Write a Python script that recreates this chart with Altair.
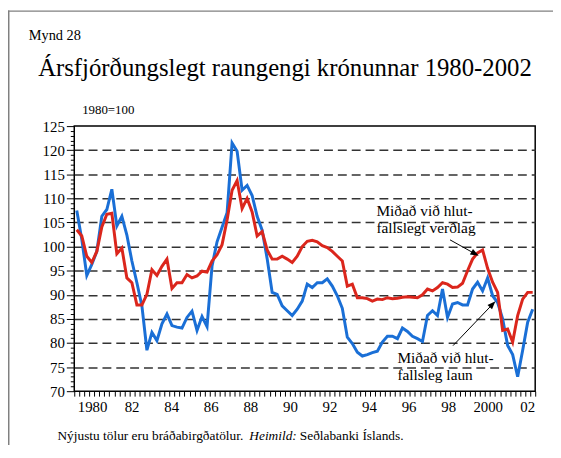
import math
import altair as alt
import pandas as pd

# ---------------- data ----------------
N_Q = 92  # quarters 1980Q1 .. 2002Q4
laun = [107.5, 101.5, 94.0, 96.3, 99.0, 106.3, 107.7, 111.9, 104.3, 106.3,
        102.4, 97.0, 92.5, 87.7, 78.5, 82.2, 80.5, 84.0, 86.0, 83.6,
        83.3, 83.1, 85.3, 86.6, 82.6, 85.5, 83.4, 96.0, 101.0, 104.0,
        107.0, 121.5, 119.8, 111.7, 112.7, 110.6, 106.3, 103.4, 97.5, 90.5,
        90.1, 87.7, 86.7, 85.7, 87.0, 88.7, 92.2, 91.5, 92.5, 92.5,
        93.3, 91.8, 89.8, 87.2, 81.2, 79.9, 78.1, 77.3, 77.6, 78.0,
        78.3, 80.2, 81.4, 81.4, 80.9, 83.1, 82.4, 81.4, 80.9, 80.3,
        85.7, 86.7, 85.7, 91.2, 85.3, 88.1, 88.4, 87.9, 87.9, 91.2,
        92.6, 90.8, 93.5, 89.8, 88.4, 85.0, 79.5, 77.6, 73.0, 78.5,
        84.3, 87.0]
verdlag = [103.5, 102.2, 98.0, 96.7, 99.0, 104.1, 106.7, 106.9, 98.5, 99.7,
           93.5, 92.5, 87.9, 87.9, 90.1, 95.2, 94.0, 95.9, 97.4, 91.3,
           92.5, 92.5, 94.2, 93.5, 93.9, 94.9, 94.7, 97.0, 98.3, 100.4,
           105.5, 111.7, 113.7, 107.9, 110.0, 107.2, 102.2, 103.1, 99.3, 97.4,
           97.4, 98.0, 97.4, 96.7, 98.0, 100.0, 101.1, 101.3, 101.0, 100.2,
           99.8, 99.0, 98.0, 97.0, 91.8, 92.2, 89.4, 89.4, 89.2, 88.7,
           89.1, 89.0, 89.4, 89.2, 89.3, 89.5, 89.6, 89.5, 89.4, 90.0,
           91.2, 90.8, 91.5, 92.5, 92.2, 91.5, 91.6, 92.4, 95.0, 97.4,
           98.7, 99.3, 95.5, 92.6, 90.5, 82.6, 82.9, 80.2, 85.7, 89.1,
           90.5, 90.5]
year_labels = ["1980", "82", "84", "86", "88", "90", "92", "94", "96", "98", "2000", "02"]
y_min, y_max = 70, 125

# ---------------- layout constants ----------------
W, H = 466, 268
PAD = {"left": 67, "top": 117, "right": 18, "bottom": 52}
SERIF = "Liberation Serif"
BLUE = "#1a6fd6"
RED = "#db261c"

rows = []
for i in range(N_Q):
    rows.append({"q": i, "series": "laun", "value": laun[i]})
    rows.append({"q": i, "series": "verdlag", "value": verdlag[i]})
df = pd.DataFrame(rows)

# quarter-boundary ticks plus (tickless) label positions
tick_vals = [k - 0.5 for k in range(N_Q + 1)]
first_lab, last_lab = 3.05, 89.92
step = (last_lab - first_lab) / (len(year_labels) - 1)
label_pos = [round(first_lab + step * k, 3) for k in range(len(year_labels))]
expr = "''"
for p, lab in reversed(list(zip(label_pos, year_labels))):
    expr = f"datum.value === {p} ? '{lab}' : ({expr})"
is_label = " || ".join(f"datum.value === {p}" for p in label_pos)

xscale = alt.Scale(domain=[-0.5, N_Q - 0.5], nice=False, zero=False)
yscale = alt.Scale(domain=[y_min, y_max], nice=False, zero=False)

xaxis = alt.Axis(values=tick_vals + label_pos, labelExpr=expr, title=None, grid=False,
                 domain=False, tickSize=5, tickColor="black", tickWidth=1,
                 tickOpacity={"condition": {"test": is_label, "value": 0}, "value": 1},
                 labelFont=SERIF, labelFontSize=15, labelColor="black",
                 labelPadding=4, labelOverlap=False, labelFlush=False, labelBound=False)
yaxis = alt.Axis(values=list(range(y_min, y_max + 1)),
                 labelExpr="datum.value % 5 === 0 ? datum.value : ''",
                 title=None, domain=False,
                 tickSize={"condition": {"test": "datum.value % 5 === 0", "value": 8}, "value": 4},
                 tickColor="black", tickWidth=1,
                 labelFont=SERIF, labelFontSize=15, labelColor="black", labelPadding=2,
                 labelOverlap=False, labelFlush=False,
                 grid=True, gridColor="#333333", gridWidth=1.5, gridDash=[9, 5],
                 gridOpacity={"condition": {"test": "datum.value % 5 === 0 && datum.value > 70 && datum.value < 125", "value": 1}, "value": 0})


def X(field):
    return alt.X(field, scale=xscale, axis=xaxis)


def Y(field):
    return alt.Y(field, scale=yscale, axis=yaxis)


lines = alt.Chart(df).mark_line(strokeWidth=3).encode(
    x=X("q:Q"),
    y=Y("value:Q"),
    color=alt.Color("series:N", scale=alt.Scale(domain=["laun", "verdlag"], range=[BLUE, RED]), legend=None),
    order="q:Q",
)

# annotations (data coordinates)
sx = W / N_Q
sy = H / (y_max - y_min)
ann = pd.DataFrame([
    {"x": 59.8, "y": 106.4, "t": "Miðað við hlut-"},
    {"x": 59.8, "y": 102.8, "t": "fallslegt verðlag"},
    {"x": 64.0, "y": 75.75, "t": "Miðað við hlut-"},
    {"x": 64.0, "y": 72.25, "t": "fallsleg laun"},
])
ann_text = alt.Chart(ann).mark_text(align="left", baseline="alphabetic", font=SERIF,
                                     fontSize=15.5, color="black").encode(
    x=X("x:Q"), y=Y("y:Q"), text="t:N")

arrows = pd.DataFrame([
    {"x": 74.5, "y": 101.4, "x2": 79.5, "y2": 98.5},
    {"x": 75.1, "y": 79.45, "x2": 83.0, "y2": 88.05},
])
arrows["ang"] = [
    (math.degrees(math.atan2(-(r.y2 - r.y) * sy, (r.x2 - r.x) * sx)) + 360) % 360
    for r in arrows.itertuples()
]
arrow_lines = alt.Chart(arrows).mark_rule(color="black", strokeWidth=1).encode(
    x=X("x:Q"), y=Y("y:Q"), x2="x2:Q", y2="y2:Q")
arrow_heads = alt.Chart(arrows).mark_point(
    shape="M 1 0 L -1 -0.75 L -1 0.75 Z", filled=True, color="black", opacity=1, size=70
).encode(x=X("x2:Q"), y=Y("y2:Q"), angle=alt.Angle("ang:Q", scale=None))


# outside texts (pixel positions relative to the plot area)
def txt(s, x, y, size, align="left", style="normal"):
    return alt.Chart(pd.DataFrame({"t": [s]})).mark_text(
        align=align, baseline="alphabetic", font=SERIF, fontSize=size,
        fontStyle=style, color="black").encode(
        x=alt.value(x), y=alt.value(y), text="t:N")


texts = [
    txt("Mynd 28", -46, -87, 14.5),
    txt("Ársfjórðungslegt raungengi krónunnar 1980-2002", 213, -51, 25, align="center"),
    txt("1980=100", 8, -12, 13),
    txt("Nýjustu tölur eru bráðabirgðatölur.", -17, 317, 13.5),
    txt("Heimild:", 177, 317, 13.5, style="italic"),
    txt("Seðlabanki Íslands.", 228, 317, 13.5),
]

# page frame (gray, top and left)
frame_top = alt.Chart(pd.DataFrame({"a": [0]})).mark_rule(color="#808080", strokeWidth=1.5).encode(
    x=alt.value(-67), x2=alt.value(W + 20), y=alt.value(-116.25))
frame_left = alt.Chart(pd.DataFrame({"a": [0]})).mark_rule(color="#808080", strokeWidth=1.5).encode(
    x=alt.value(-66.25), y=alt.value(-117), y2=alt.value(H + 60))

chart = alt.layer(lines, arrow_lines, arrow_heads, ann_text, *texts, frame_top, frame_left).properties(
    width=W, height=H,
    autosize=alt.AutoSizeParams(type="none"),
    padding=PAD,
    background="white",
).configure_view(stroke="black", strokeWidth=1.5)

chart.save("out.html", embed_options={"renderer": "svg", "actions": False})
